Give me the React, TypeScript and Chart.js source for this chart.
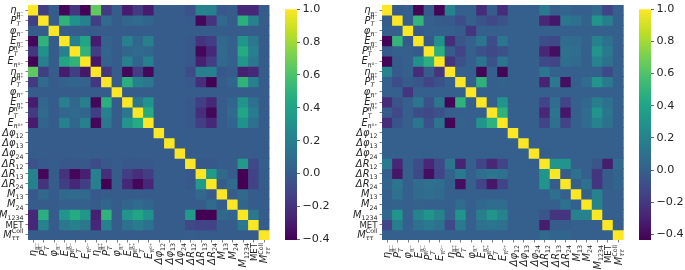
import React, { useEffect, useRef } from "react";
import { Chart, registerables } from "chart.js";

Chart.register(...registerables);

const labelBase = ["η","P","φ","E","P","E","η","P","φ","E","P","E","Δφ","Δφ","Δφ","ΔR","ΔR","ΔR","M","M","M","MET","M"];
const labelSub = ["π⁻","T","π⁻","π⁻","T","π⁰⁻","π⁺","T","π⁺","π⁺","T","π⁰⁺","12","13","24","12","13","24","13","24","1234","","ττ"];
const labelSup = ["","π⁻","","","π⁰⁻","","","π⁺","","","π⁰⁺","","","","","","","","","","","","Coll"];
const categories = labelBase.map((b, i) => b + labelSub[i] + labelSup[i]);

// Upper triangles, each row starts at its diagonal element
const leftUpper = [
  [1,-.15,0,-.38,-.18,-.4,.65,-.17,0,-.3,-.17,-.3,0,0,0,-.05,.22,.2,-.02,0,-.25,-.25,0],
  [1,0,.5,.3,.2,-.15,.08,0,.06,.08,.05,0,0,0,-.01,-.38,-.2,.07,0,.48,.22,0],
  [1,0,0,0,0,0,0,0,0,0,0,0,0,0,0,0,0,0,0,0,0],
  [1,.2,.42,-.3,.04,0,.2,.06,.2,0,0,0,-.02,-.2,-.15,.07,.02,.32,.15,0],
  [1,.5,-.15,.05,0,.06,.08,.06,0,0,0,-.02,-.38,-.25,.08,.02,.45,.2,0],
  [1,-.32,.04,0,.2,.05,.2,0,0,0,-.02,-.28,-.15,.07,.02,.33,.15,0],
  [1,-.18,0,-.38,-.15,-.38,0,0,0,-.08,.2,.2,-.02,0,-.28,-.25,0],
  [1,0,.48,.2,.15,0,0,0,-.02,-.22,-.4,0,.05,.5,.2,0],
  [1,0,0,0,0,0,0,0,0,0,0,0,0,0,0],
  [1,.15,.32,0,0,0,-.02,-.15,-.25,0,.05,.32,.12,0],
  [1,.45,0,0,0,-.02,-.22,-.38,0,.08,.42,.18,0],
  [1,0,0,0,-.02,-.15,-.25,0,.05,.3,.12,0],
  [1,0,0,0,0,0,0,0,0,0,0],
  [1,0,0,0,0,0,0,0,0,0],
  [1,0,0,0,0,0,0,0,0],
  [1,-.02,-.02,0,0,.35,-.1,.01],
  [1,.35,.07,0,-.42,-.13,0],
  [1,0,.08,-.42,-.13,0],
  [1,0,.07,0,0],
  [1,.05,0,0],
  [1,.15,0],
  [1,0],
  [1],
];
const rightUpper = [
  [1,-.02,0,-.42,-.03,-.42,.2,0,0,-.25,-.02,-.25,0,0,0,.15,0,.03,0,0,.05,-.15,0],
  [1,0,.5,0,-.02,-.03,-.1,0,-.07,-.12,-.07,0,0,0,-.28,-.35,.12,.1,.02,.3,.18,0],
  [1,-.03,0,0,0,-.02,-.22,0,0,0,0,0,0,0,0,0,0,0,0,0,0],
  [1,-.03,.28,-.25,-.05,0,.12,-.1,.13,0,0,0,-.1,-.12,.07,.06,.01,.2,.1,0],
  [1,.47,-.02,-.15,0,-.08,-.12,-.08,0,0,0,-.28,-.38,.1,.08,0,.3,.15,0],
  [1,-.22,-.08,0,.12,-.08,.13,0,0,0,-.12,-.15,.08,.06,0,.2,.1,0],
  [1,0,0,-.42,0,-.42,0,0,0,.12,.02,0,0,0,0,-.12,0],
  [1,0,.48,0,.02,0,0,0,-.3,.15,-.38,0,.07,.3,.15,0],
  [1,0,0,0,0,0,0,0,0,0,0,0,0,0,0],
  [1,0,.3,0,0,0,-.15,.08,-.15,0,.05,.18,.1,0],
  [1,.48,0,0,0,-.28,.12,-.35,0,.07,.3,.12,0],
  [1,0,0,0,-.15,.1,-.15,0,.07,.2,.1,0],
  [1,0,0,0,0,0,0,0,0,0,0],
  [1,0,0,0,0,0,0,0,0,0],
  [1,-.01,0,0,0,0,0,0,0],
  [1,.3,.3,0,0,-.05,-.32,.06],
  [1,-.02,.1,0,-.22,-.02,.03],
  [1,0,.1,-.22,-.02,.03],
  [1,0,.2,0,0],
  [1,.2,0,0],
  [1,0,0],
  [1,0],
  [1],
];
const colorbarTicks = [1, 0.8, 0.6, 0.4, 0.2, 0, -0.2, -0.4];

const viridis = ["#440154","#482475","#414487","#355f8d","#2a788e","#21918c","#22a884","#44bf70","#7ad151","#bddf26","#fde725"];
const TEXT = "#262626";
const FONT = "DejaVu Sans";

function hexToRgb(h: string) {
  return [1, 3, 5].map((i) => parseInt(h.slice(i, i + 2), 16));
}
function colorAt(t: number) {
  const c = Math.min(1, Math.max(0, t)) * (viridis.length - 1);
  const i = Math.min(viridis.length - 2, Math.floor(c));
  const a = hexToRgb(viridis[i]);
  const b = hexToRgb(viridis[i + 1]);
  const f = c - i;
  return `rgb(${a.map((v, k) => Math.round(v + (b[k] - v) * f)).join(",")})`;
}
function valueAt(upper: number[][], r: number, c: number) {
  return r <= c ? upper[r][c - r] : upper[c][r - c];
}

function drawLabel(ctx: CanvasRenderingContext2D, i: number) {
  const base = labelBase[i], sub = labelSub[i], sup = labelSup[i];
  const baseFont = base === "MET" ? `8.6px "${FONT}"` : `italic 9.9px "${FONT}"`;
  const scriptFont = `6.3px "${FONT}"`;
  const subFont = sub === "T" || sub === "ττ" ? `italic 6.3px "${FONT}"` : scriptFont;
  ctx.font = baseFont;
  const bw = ctx.measureText(base).width;
  ctx.font = subFont;
  const sw = sub ? ctx.measureText(sub).width : 0;
  ctx.font = scriptFont;
  const pw = sup ? ctx.measureText(sup).width : 0;
  const total = bw + Math.max(sw, pw);
  ctx.textAlign = "left";
  ctx.textBaseline = "alphabetic";
  ctx.font = baseFont;
  ctx.fillText(base, -total, 3.2);
  if (sub) {
    ctx.font = subFont;
    ctx.fillText(sub, -total + bw, 5.4);
  }
  if (sup) {
    ctx.font = scriptFont;
    ctx.fillText(sup, -total + bw, -1.4);
  }
}

const mathLabels = (gapX: number, gapY: number) => ({
  id: "mathLabels",
  afterDraw(chart: any) {
    const { ctx, scales } = chart;
    ctx.save();
    ctx.fillStyle = TEXT;
    categories.forEach((_, i) => {
      const py = scales.y.getPixelForValue(i + 0.5);
      ctx.save();
      ctx.translate(chart.chartArea.left - gapX, py);
      drawLabel(ctx, i);
      ctx.restore();
      const px = scales.x.getPixelForValue(i);
      ctx.save();
      ctx.translate(px, chart.chartArea.bottom + gapY);
      ctx.rotate(-Math.PI / 2);
      drawLabel(ctx, i);
      ctx.restore();
    });
    ctx.restore();
  },
});

function useHeat(ref: any, upper: number[][], vmin: number, yWidth: number, rightPad: number, gapY: number) {
  useEffect(() => {
    const datasets = categories.map((_, r) => ({
      label: categories[r],
      data: categories.map((cat, c) => ({ x: cat, y: [r, r + 1], v: valueAt(upper, r, c) })),
      backgroundColor: (ctx: any) => colorAt(((ctx.raw?.v ?? 0) - vmin) / (1 - vmin)),
      borderWidth: 0,
      inflateAmount: 0.4,
      barPercentage: 1,
      categoryPercentage: 1,
      grouped: false,
    }));
    const tickGrid = { drawOnChartArea: false, drawTicks: true, tickLength: 2.5, tickColor: TEXT, lineWidth: 0.6 };
    const chart = new Chart(ref.current, {
      type: "bar",
      data: { labels: categories, datasets: datasets as any },
      plugins: [mathLabels(4.5, gapY) as any],
      options: {
        animation: false,
        responsive: false,
        layout: { padding: { top: 5, right: rightPad, bottom: 0, left: 0 } },
        plugins: { legend: { display: false }, tooltip: { enabled: false } },
        scales: {
          x: {
            type: "category",
            offset: true,
            ticks: { display: false },
            grid: { ...tickGrid, offset: false },
            border: { display: false },
            afterFit: (s: any) => { s.height = 30; },
          },
          y: {
            type: "linear",
            reverse: true,
            min: 0,
            max: categories.length,
            ticks: { display: false },
            grid: tickGrid,
            border: { display: false },
            afterBuildTicks: (s: any) => { s.ticks = categories.map((_, i) => ({ value: i + 0.5 })); },
            afterFit: (s: any) => { s.width = yWidth; },
          },
        },
      } as any,
    });
    return () => chart.destroy();
  }, []);
}

function useBar(ref: any, vmin: number, axisWidth: number) {
  useEffect(() => {
    const chart = new Chart(ref.current, {
      type: "bar",
      data: {
        labels: ["colorbar"],
        datasets: [{
          data: [[vmin, 1]],
          backgroundColor: (ctx: any) => {
            const a = ctx.chart.chartArea;
            if (!a) return viridis[0];
            const g = ctx.chart.ctx.createLinearGradient(0, a.bottom, 0, a.top);
            viridis.forEach((col, i) => g.addColorStop(i / (viridis.length - 1), col));
            return g;
          },
          borderWidth: 0,
          barPercentage: 1,
          categoryPercentage: 1,
        }] as any,
      },
      options: {
        animation: false,
        responsive: false,
        layout: { padding: { top: 5, right: 0, bottom: 30, left: 15 } },
        plugins: { legend: { display: false }, tooltip: { enabled: false } },
        scales: {
          x: { display: false },
          y: {
            type: "linear",
            position: "right",
            min: vmin,
            max: 1,
            afterBuildTicks: (s: any) => { s.ticks = colorbarTicks.map((value) => ({ value })); },
            afterFit: (s: any) => { s.width = axisWidth; },
            border: { display: false },
            grid: { drawOnChartArea: false, drawTicks: true, tickLength: 3, tickColor: TEXT, lineWidth: 0.7 },
            ticks: {
              color: TEXT,
              padding: 2.5,
              autoSkip: false,
              maxRotation: 0,
              font: { family: FONT, size: 11.2 },
              callback: (v: any) => Number(v).toFixed(1).replace("-", "\u2212"),
            },
          },
        },
      } as any,
    });
    return () => chart.destroy();
  }, []);
}

const pos = (left: number): React.CSSProperties => ({
  position: "fixed",
  left,
  top: 0,
  filter: "blur(0.5px)",
});

export default function App() {
  const a = useRef<HTMLCanvasElement>(null);
  const b = useRef<HTMLCanvasElement>(null);
  const c = useRef<HTMLCanvasElement>(null);
  const d = useRef<HTMLCanvasElement>(null);
  useHeat(a, leftUpper, -0.405, 28, 5.5, 3);
  useBar(b, -0.405, 40);
  useHeat(c, rightUpper, -0.435, 37, 6.3, 5);
  useBar(d, -0.435, 34);
  return (
    <div style={{ position: "fixed", left: 0, top: 0, width: 685, height: 270, background: "#fff", overflow: "hidden" }}>
      <canvas ref={a} width={275} height={270} style={pos(0)} />
      <canvas ref={b} width={67} height={270} style={pos(270)} />
      <canvas ref={c} width={285} height={270} style={pos(345)} />
      <canvas ref={d} width={61} height={270} style={pos(624)} />
    </div>
  );
}
